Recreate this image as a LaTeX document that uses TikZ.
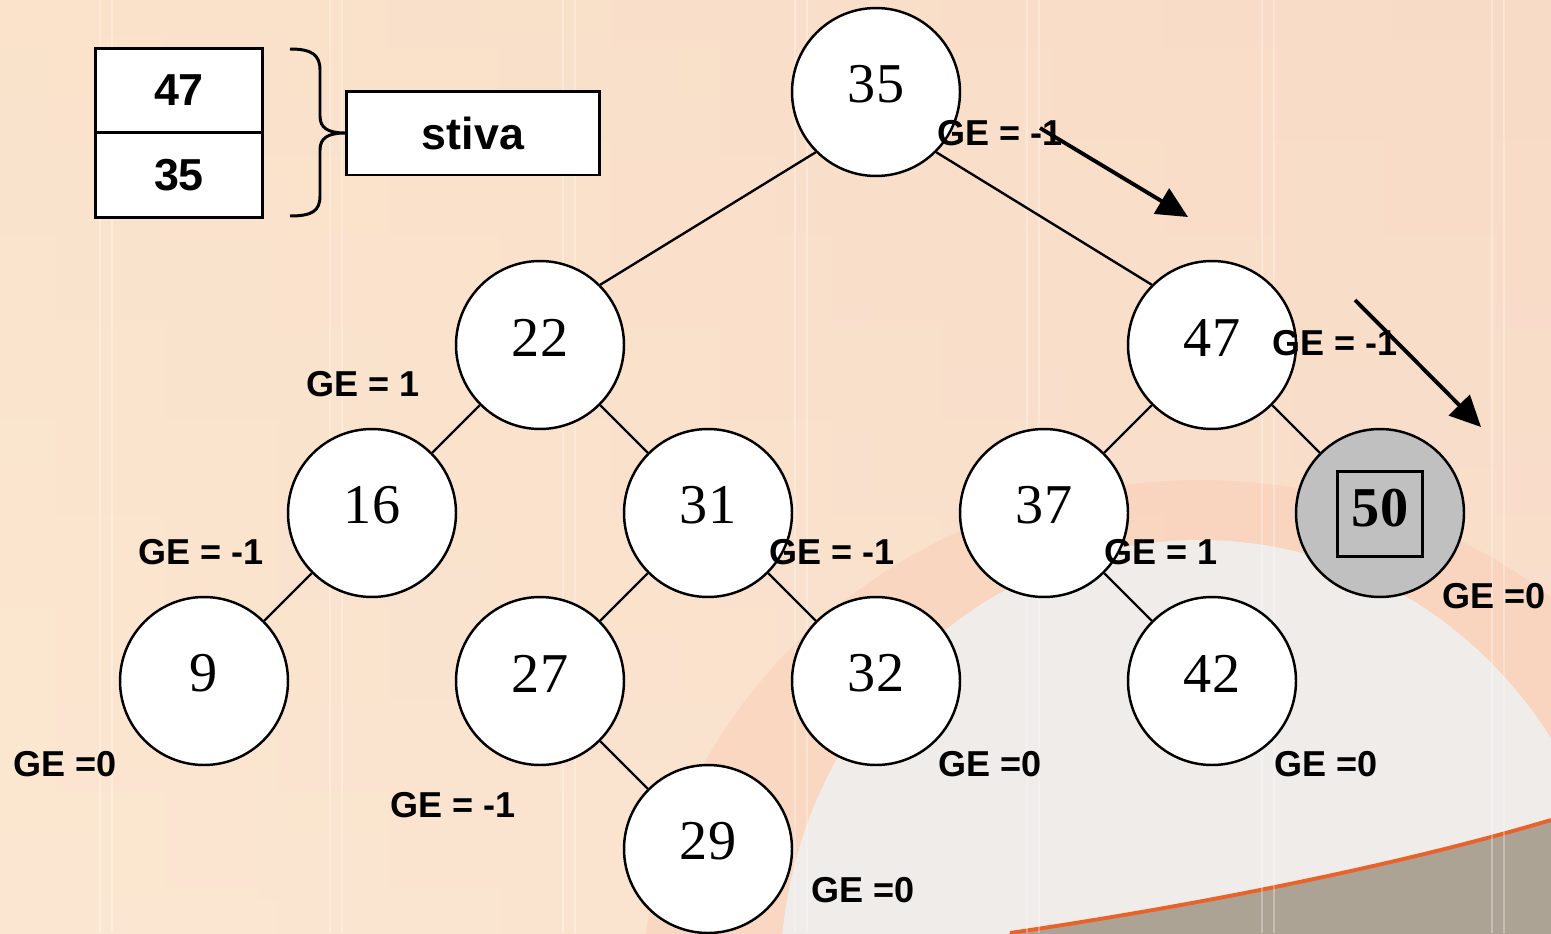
\documentclass[tikz,border=0pt]{standalone}
\usepackage{fontspec}
\usetikzlibrary{arrows.meta}
\newfontfamily\numfam{Liberation Serif}
\newfontfamily\labfam{Liberation Sans}
\definecolor{bgtop}{HTML}{F9DFC8}
\definecolor{bgbot}{HTML}{FCE9D6}
\definecolor{bgleft}{HTML}{FBE6CE}
\definecolor{bgright}{HTML}{F8D8C6}
\definecolor{bandc}{HTML}{F9CDB6}
\definecolor{arcgray}{HTML}{EFECE9}
\definecolor{brownc}{HTML}{ADA395}
\definecolor{orangec}{HTML}{E8622A}
\definecolor{hotgray}{HTML}{C0C0C0}
\newcommand\upnum[1]{\raisebox{0.15cm}[\height][\depth]{#1}}
\tikzset{
  treenode/.style={circle, draw=black, fill=white, line width=1.4pt, minimum size=3.36cm, inner sep=0pt,
    font=\numfam\fontsize{32pt}{36pt}\selectfont},
  hotnode/.style={treenode, fill=hotgray},
  markbox/.style={draw=black, line width=1.5pt, minimum size=1.7cm, inner sep=0pt,
    font=\numfam\bfseries\fontsize{32pt}{36pt}\selectfont},
  gelabel/.style={inner sep=0pt, font=\labfam\bfseries\fontsize{20.5pt}{24pt}\selectfont},
  edge/.style={draw=black, line width=1.35pt},
  stackbox/.style={draw=black, fill=white, line width=1.7pt, minimum width=3.36cm, minimum height=1.69cm,
    inner sep=0pt, font=\labfam\bfseries\fontsize{25.5pt}{29pt}\selectfont},
  stivabox/.style={stackbox, minimum width=5.06cm, minimum height=1.68cm, font=\labfam\bfseries\fontsize{25.5pt}{29pt}\selectfont},
  bracepath/.style={draw=black, line width=1.7pt},
  movearrow/.style={draw=black, line width=2.2pt, -{Triangle[length=0.62cm, width=0.58cm]}},
  vline/.style={draw=white, line width=1.2pt, opacity=0.3}
}
\begin{document}
\begin{tikzpicture}[x=0.02cm, y=-0.02cm]
\useasboundingbox (0,0) rectangle (1551,933);
% ---------- background ----------
\begin{scope}
\clip (0,0) rectangle (1551,933);
\shade[top color=bgtop, bottom color=bgbot] (0,0) rectangle (1551,933);
\shade[left color=bgleft, right color=bgright, opacity=0.5] (0,0) rectangle (1551,933);
\fill[bandc, opacity=0.5] (1200,1010) ellipse [x radius=560, y radius=530];
\fill[arcgray] (1200,980) ellipse [x radius=420, y radius=440];
\fill[brownc] (1010,933) .. controls (1200,905) and (1400,865) .. (1551,820) -- (1560,940) -- (1000,940) -- cycle;
\draw[orangec, line width=2.2pt] (1010,933) .. controls (1200,905) and (1400,865) .. (1551,820);
\foreach \xx in {100,330,563,795,1027,1262,1492}{
  \draw[vline] (\xx,0) -- (\xx,933);
  \draw[vline] (\xx+12,0) -- (\xx+12,933);
}
\end{scope}
% ---------- tree nodes ----------
\node[treenode] (n35) at (876,92) {\upnum{35}};
\node[treenode] (n22) at (540,345) {\upnum{22}};
\node[treenode] (n47) at (1212,345) {\upnum{47}};
\node[treenode] (n16) at (372,513) {\upnum{16}};
\node[treenode] (n31) at (708,513) {\upnum{31}};
\node[treenode] (n37) at (1044,513) {\upnum{37}};
\node[hotnode] (n50) at (1380,513) {};
\node[markbox] (b50) at (1380,514) {\raisebox{0.12cm}[\height][\depth]{50}};
\node[treenode] (n9) at (204,681) {\upnum{9}};
\node[treenode] (n27) at (540,681) {\upnum{27}};
\node[treenode] (n32) at (876,681) {\upnum{32}};
\node[treenode] (n42) at (1212,681) {\upnum{42}};
\node[treenode] (n29) at (708,849) {\upnum{29}};
% ---------- edges ----------
\draw[edge] (n35.225) -- (n22.45);
\draw[edge] (n35.315) -- (n47.135);
\draw[edge] (n22) -- (n16);
\draw[edge] (n22) -- (n31);
\draw[edge] (n47) -- (n37);
\draw[edge] (n47) -- (n50);
\draw[edge] (n16) -- (n9);
\draw[edge] (n31) -- (n27);
\draw[edge] (n31) -- (n32);
\draw[edge] (n37) -- (n42);
\draw[edge] (n27) -- (n29);
% ---------- balance labels ----------
\node[gelabel] (g35) at (1000,133) {GE = -1};
\node[gelabel] (g22) at (363,384) {GE = 1};
\node[gelabel] (g47) at (1335,343) {GE = -1};
\node[gelabel] (g16) at (201,552) {GE = -1};
\node[gelabel] (g31) at (832,552) {GE = -1};
\node[gelabel] (g37) at (1161,552) {GE = 1};
\node[gelabel] (g50) at (1494,596) {GE =0};
\node[gelabel] (g9) at (65,764) {GE =0};
\node[gelabel] (g27) at (453,805) {GE = -1};
\node[gelabel] (g32) at (990,764) {GE =0};
\node[gelabel] (g42) at (1326,764) {GE =0};
\node[gelabel] (g29) at (863,890) {GE =0};
% ---------- arrows ----------
\coordinate (a1s) at (1040,128);
\coordinate (a1e) at (1188,217);
\coordinate (a2s) at (1355,300);
\coordinate (a2e) at (1481,427);
\draw[movearrow] (a1s) -- (a1e);
\draw[movearrow] (a2s) -- (a2e);
% ---------- stack ----------
\node[stackbox] (s47) at (179,90.5) {\raisebox{-0.04cm}{47}};
\node[stackbox] (s35) at (179,175) {\raisebox{-0.04cm}{35}};
\node[stivabox] (stiva) at (473,133) {\raisebox{-0.04cm}{stiva}};
\coordinate (bt) at (290,49);
\coordinate (bb) at (290,216);
\draw[bracepath] (bt) .. controls (312,49) and (320,55) .. (320,70) -- (320,116)
  .. controls (320,128) and (328,133) .. (stiva.west)
  .. controls (328,133) and (320,138) .. (320,150) -- (320,196)
  .. controls (320,211) and (312,216) .. (bb);
\end{tikzpicture}
\end{document}
